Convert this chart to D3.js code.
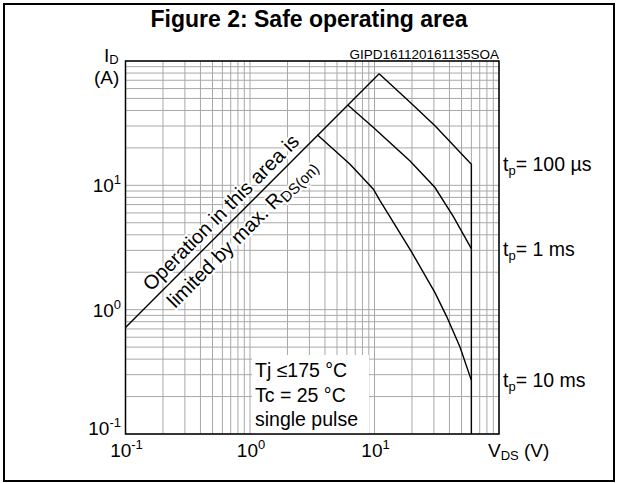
<!DOCTYPE html>
<html>
<head>
<meta charset="utf-8">
<script src="https://cdn.jsdelivr.net/npm/d3@7"></script>
<style>
  body { margin: 0; background: #fff; }
  svg { font-family: "Liberation Sans", Arial, sans-serif; }
</style>
</head>
<body>
<svg id="chart" width="618" height="483"></svg>
<script>
// values: [V_DS (V), I_D (A)]
var rdsLimit = [[0.1, 0.72], [10.9, 79]];
var tp100us = [[10.9, 79], [19.3, 46.5], [30.6, 30.1], [60, 14.8], [60, 0.1]];
var tp1ms = [[6.1, 44.2], [9.8, 29.2], [19.3, 15.7], [30.6, 9.6], [43, 5.6], [60, 3.1]];
var tp10ms = [[3.47, 25.5], [6.36, 14.8], [9.8, 9.3], [11.1, 7.5], [19.9, 2.9], [30.6, 1.37], [38, 0.88], [48.6, 0.5], [60, 0.27]];
var curveLabels = [["100 µs", 14.8], ["1 ms", 3.1], ["10 ms", 0.27]];
var xTickExps = [-1, 0, 1];
var yTickExps = [-1, 0, 1];
var notes = ["Tj \u2264175 \u00B0C", "Tc = 25 \u00B0C", "single pulse"];

var svg = d3.select("#chart");

// frame round the whole figure
svg.append("rect")
    .attr("x", 4).attr("y", 4)
    .attr("width", 610).attr("height", 477)
    .attr("fill", "none")
    .attr("stroke", "#000")
    .attr("stroke-width", 2);

svg.append("text")
    .attr("x", 309).attr("y", 27)
    .attr("text-anchor", "middle")
    .style("font-size", "23px")
    .style("font-weight", "bold")
    .text("Figure 2: Safe operating area");

var x = d3.scaleLog().domain([0.1, 100]).range([125.5, 499]);
var y = d3.scaleLog().domain([0.1, 100]).range([434, 61]);

// grid
var grid = svg.append("g").attr("stroke", "#a8a8a8").attr("stroke-width", 1);
x.ticks().forEach(function(v) {
    grid.append("line")
        .attr("x1", x(v)).attr("x2", x(v))
        .attr("y1", y.range()[0]).attr("y2", y.range()[1]);
});
y.ticks().forEach(function(v) {
    grid.append("line")
        .attr("x1", x.range()[0]).attr("x2", x.range()[1])
        .attr("y1", y(v)).attr("y2", y(v));
});

// white box behind the conditions
svg.append("rect")
    .attr("x", 252).attr("y", 355)
    .attr("width", 117).attr("height", y(0.1) - 355)
    .attr("fill", "#fff");

svg.selectAll(".note")
    .data(notes)
    .enter().append("text")
    .attr("class", "note")
    .attr("x", 255)
    .attr("y", function(d, i) { return 377 + i * 24.5; })
    .style("font-size", "19.5px")
    .text(function(d) { return d; });

// plot border
svg.append("rect")
    .attr("x", x.range()[0]).attr("y", y.range()[1])
    .attr("width", x.range()[1] - x.range()[0])
    .attr("height", y.range()[0] - y.range()[1])
    .attr("fill", "none")
    .attr("stroke", "#000")
    .attr("stroke-width", 1.5);

var line = d3.line()
    .x(function(d) { return x(d[0]); })
    .y(function(d) { return y(d[1]); });

[rdsLimit, tp100us, tp1ms, tp10ms].forEach(function(s) {
    svg.append("path")
        .attr("d", line(s))
        .attr("fill", "none")
        .attr("stroke", "#000")
        .attr("stroke-width", 1.4);
});

// rotated note along the R_DS(on) line
var p0 = [x(rdsLimit[0][0]), y(rdsLimit[0][1])];
var p1 = [x(rdsLimit[1][0]), y(rdsLimit[1][1])];
var ang = Math.atan2(p1[1] - p0[1], p1[0] - p0[0]) * 180 / Math.PI;
var vMid = 0.7;
var cx = x(vMid), cy = y(vMid * rdsLimit[0][1] / rdsLimit[0][0]);
var rot = svg.append("g")
    .attr("transform", "translate(" + cx + "," + cy + ") rotate(" + ang + ")")
    .style("font-size", "20px")
    .attr("text-anchor", "middle");
rot.append("text")
    .attr("y", -7)
    .attr("stroke", "#fff").attr("stroke-width", 4)
    .attr("paint-order", "stroke")
    .text("Operation in this area is");
var t2 = rot.append("text")
    .attr("y", 22)
    .attr("stroke", "#fff").attr("stroke-width", 4)
    .attr("paint-order", "stroke");
t2.append("tspan").text("limited by max. R");
t2.append("tspan").attr("dy", 4).style("font-size", "15px").text("DS(on)");

// axis labels
function powerLabel(sel, e) {
    sel.append("tspan").text("10");
    sel.append("tspan").attr("dy", -8).style("font-size", "13px").text(e);
}

xTickExps.forEach(function(e) {
    var t = svg.append("text")
        .attr("x", x(Math.pow(10, e)) + 1)
        .attr("y", 457)
        .attr("text-anchor", "middle")
        .style("font-size", "19px");
    powerLabel(t, e);
});

yTickExps.forEach(function(e) {
    var t = svg.append("text")
        .attr("x", 121)
        .attr("y", y(Math.pow(10, e)) + 7 - (e === -1 ? 6 : 0))
        .attr("text-anchor", "end")
        .style("font-size", "19px");
    powerLabel(t, e);
});

var vds = svg.append("text").attr("x", 488).attr("y", 457).style("font-size", "19px");
vds.append("tspan").text("V");
vds.append("tspan").attr("dy", 3).style("font-size", "13px").text("DS");
vds.append("tspan").attr("dy", -3).text(" (V)");

var idl = svg.append("text").attr("x", 104).attr("y", 62).style("font-size", "19px");
idl.append("tspan").text("I");
idl.append("tspan").attr("dy", 2).style("font-size", "13px").text("D");
svg.append("text").attr("x", 94).attr("y", 84).style("font-size", "19px").text("(A)");

svg.append("text")
    .attr("x", 499).attr("y", 59)
    .attr("text-anchor", "end")
    .style("font-size", "13.5px")
    .text("GIPD161120161135SOA");

// pulse-width labels at the end of each curve
curveLabels.forEach(function(c) {
    var t = svg.append("text")
        .attr("x", 503)
        .attr("y", y(c[1]) + 7)
        .style("font-size", "19.5px");
    t.append("tspan").text("t");
    t.append("tspan").attr("dy", 4).style("font-size", "13px").text("p");
    t.append("tspan").attr("dy", -4).text("= " + c[0]);
});
</script>
</body>
</html>
